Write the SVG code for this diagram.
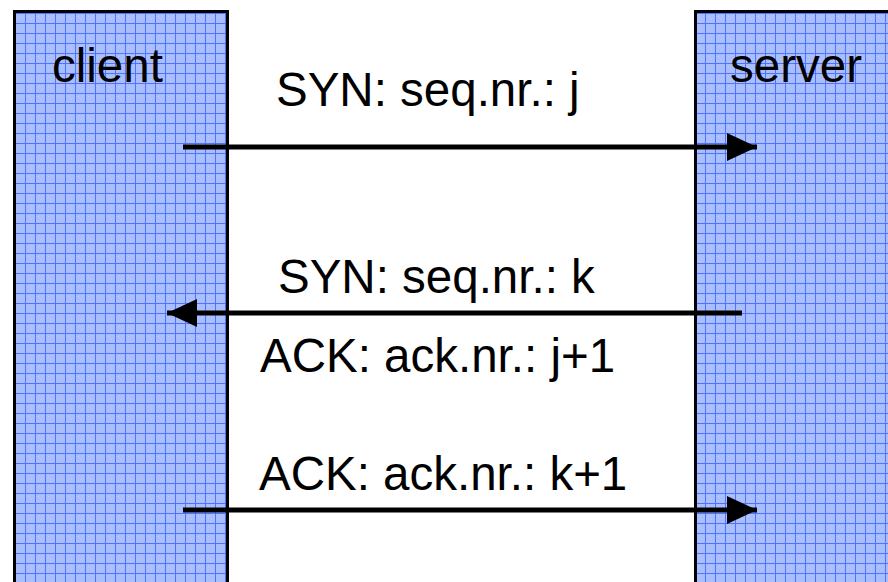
<svg xmlns="http://www.w3.org/2000/svg" width="888" height="582" viewBox="0 0 888 582">
  <defs>
    <pattern id="grid" x="5" y="3" width="10" height="10" patternUnits="userSpaceOnUse">
      <rect width="10" height="10" fill="#a8beff"/>
      <rect x="3" y="3" width="1" height="1" fill="#b8c9ff"/>
      <rect x="6" y="6" width="1" height="1" fill="#b8c9ff"/>
      <rect x="0" y="0" width="10" height="1" fill="#4f72ff"/>
      <rect x="0" y="0" width="1" height="10" fill="#4f72ff"/>
    </pattern>
    <marker id="arrow" viewBox="0 0 30 28" refX="30" refY="14" markerWidth="30" markerHeight="28" markerUnits="userSpaceOnUse" orient="auto">
      <path d="M0,0 L30,14 L0,28 Z" fill="#000"/>
    </marker>
  </defs>
  <style>
    .box { fill: url(#grid); stroke: #000; stroke-width: 3; }
    .lbl { font-family: "Liberation Sans", Arial, sans-serif; font-size: 47.5px; fill: #000; }
    .conn { stroke: #000; stroke-width: 5; fill: none; marker-end: url(#arrow); }
  </style>
  <rect width="888" height="582" fill="#fff"/>
  <g id="client">
    <rect class="box" x="14.5" y="11.5" width="213" height="600"/>
    <text class="lbl" x="52" y="82">client</text>
  </g>
  <g id="server">
    <rect class="box" x="695.5" y="11.5" width="220" height="600"/>
    <text class="lbl" x="730" y="82">server</text>
  </g>
  <g id="connectors">
    <line class="conn" x1="183" y1="147" x2="757" y2="147"/>
    <line class="conn" x1="742" y1="313" x2="167" y2="313"/>
    <line class="conn" x1="183" y1="510" x2="757" y2="510"/>
  </g>
  <g id="labels">
    <text class="lbl" x="276" y="106">SYN: seq.nr.: j</text>
    <text class="lbl" x="278" y="293">SYN: seq.nr.: k</text>
    <text class="lbl" x="260" y="372">ACK: ack.nr.: j+1</text>
    <text class="lbl" x="259" y="490">ACK: ack.nr.: k+1</text>
  </g>
</svg>
